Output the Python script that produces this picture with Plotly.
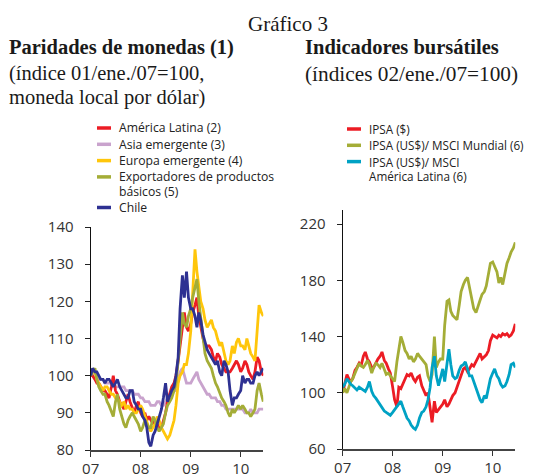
import pandas as pd
import plotly.graph_objects as go

# the page body keeps its default 8px margin, so the figure is drawn 8px in
OFF = 8
W, H = 536 - OFF, 476 - OFF

# semi-monthly observations, 1 Jan 2007 to 15 Jun 2010
dates = pd.date_range("2007-01-01", periods=84, freq="SMS")

# ---- Paridades de monedas (índice 01/ene./07=100)
america_latina = [
    100, 100, 99, 98, 98, 97, 96, 96, 95, 94, 97, 100, 96, 95, 93, 92, 91, 93, 95, 93, 91, 90, 92, 93,
    90, 89, 90, 88, 89, 88, 87, 88, 87, 86, 86, 88, 90, 93, 95, 97, 98, 100, 104, 108, 113, 117, 113, 112,
    114, 117, 119, 121, 116, 113, 110, 108, 108, 108, 107, 105, 104, 106, 105, 103, 102, 101, 101, 101, 102, 103, 104, 103,
    101, 102, 104, 103, 101, 100, 99, 101, 105, 104, 101, 100,
]
asia_emergente = [
    100, 100, 99, 99, 99, 99, 99, 98, 98, 98, 98, 98, 97, 97, 97, 97, 97, 96, 96, 96, 96, 95, 95, 95,
    94, 94, 93, 93, 93, 92, 92, 92, 93, 93, 92, 92, 93, 94, 95, 95, 96, 96, 99, 101, 102, 100, 98, 98,
    98, 99, 100, 101, 99, 98, 97, 96, 95, 95, 94, 94, 94, 93, 93, 92, 92, 91, 91, 91, 91, 91, 91, 91,
    91, 91, 90, 90, 90, 91, 90, 90, 90, 91, 91, 91,
]
europa_emergente = [
    100, 101, 101, 99, 98, 97, 96, 97, 97, 96, 95, 95, 94, 94, 93, 92, 93, 91, 92, 91, 91, 90, 90, 91,
    92, 91, 89, 88, 86, 85, 86, 87, 89, 88, 86, 85, 84, 83, 84, 86, 88, 92, 98, 100, 101, 103, 103, 106,
    112, 122, 134, 128, 124, 120, 118, 115, 113, 114, 115, 113, 112, 110, 108, 109, 106, 104, 103, 104, 108, 106, 109, 110,
    108, 108, 107, 110, 108, 106, 105, 104, 112, 119, 117, 116,
]
exportadores = [
    100, 101, 102, 99, 97, 96, 95, 95, 93, 92, 90, 89, 93, 95, 91, 89, 87, 86, 88, 89, 90, 89, 88, 87,
    85, 86, 88, 87, 86, 86, 89, 88, 86, 85, 86, 87, 90, 92, 93, 94, 96, 98, 104, 111, 117, 114, 113, 116,
    118, 121, 124, 126, 120, 116, 110, 106, 104, 103, 102, 100, 98, 97, 95, 94, 93, 92, 90, 89, 91, 90, 91, 92,
    91, 92, 91, 90, 90, 89, 90, 91, 96, 98, 95, 93,
]
chile = [
    100, 102, 101, 101, 100, 99, 99, 98, 99, 99, 98, 97, 98, 99, 97, 96, 95, 94, 94, 96, 96, 93, 92, 91,
    91, 89, 88, 86, 82, 81, 84, 85, 87, 89, 91, 94, 98, 93, 95, 96, 97, 100, 105, 118, 127, 121, 128, 121,
    118, 118, 116, 113, 117, 115, 111, 109, 107, 106, 105, 104, 103, 104, 101, 100, 104, 103, 101, 96, 92, 94, 94, 95,
    96, 100, 98, 99, 99, 98, 98, 100, 101, 100, 101, 102,
]

# ---- Indicadores bursátiles (índices 02/ene./07=100)
ipsa = [
    100, 106, 113, 110, 108, 110, 116, 118, 121, 119, 126, 129, 124, 122, 118, 118, 122, 124, 126, 129, 123, 121, 117, 114,
    104, 95, 90, 104, 103, 106, 110, 113, 112, 114, 110, 108, 111, 112, 105, 102, 98, 100, 90, 79, 94, 86, 88, 90,
    92, 95, 90, 92, 95, 98, 100, 104, 108, 112, 117, 118, 115, 117, 120, 119, 122, 125, 128, 124, 126, 127, 130, 137,
    141, 140, 139, 141, 140, 142, 141, 142, 140, 141, 144, 149,
]
ipsa_msci_mundial = [
    100, 103, 100, 104, 108, 110, 114, 116, 121, 119, 118, 120, 123, 120, 114, 118, 121, 120, 118, 121, 116, 113, 114, 112,
    110, 108, 122, 132, 140, 136, 130, 128, 124, 126, 122, 124, 128, 126, 124, 122, 120, 112, 108, 113, 140, 118, 122, 124,
    124, 148, 165, 166, 158, 155, 153, 152, 162, 172, 177, 180, 182, 175, 165, 160, 157, 162, 166, 170, 172, 176, 185, 192,
    193, 190, 186, 178, 182, 177, 185, 192, 196, 200, 203, 207,
]
ipsa_msci_al = [
    104, 106, 110, 108, 106, 105, 103, 102, 104, 103, 102, 101, 104, 108, 101, 98, 96, 94, 91, 89, 87, 86, 85, 84,
    86, 88, 90, 92, 94, 90, 86, 82, 80, 77, 75, 74, 77, 82, 86, 87, 90, 95, 104, 118, 126, 112, 105, 110,
    117, 108, 120, 131, 120, 112, 110, 111, 116, 119, 120, 122, 117, 112, 112, 108, 102, 98, 95, 93, 98, 96, 104, 110,
    114, 117, 112, 110, 106, 104, 105, 108, 113, 120, 121, 118,
]

left_names = ["América Latina (2)", "Asia emergente (3)", "Europa emergente (4)",
              "Exportadores de productos<br>básicos (5)", "Chile"]
left_series = [america_latina, asia_emergente, europa_emergente, exportadores, chile]
left_colors = ["#EC1C24", "#C9A3CD", "#FFC60B", "#A4AD37", "#2E3192"]
left_order = [1, 0, 2, 3, 4]   # drawing order (Chile on top)

right_names = ["IPSA ($)", "IPSA (US$)/ MSCI Mundial (6)", "IPSA (US$)/ MSCI<br>América Latina (6)"]
right_series = [ipsa, ipsa_msci_mundial, ipsa_msci_al]
right_colors = ["#EC1C24", "#A4AD37", "#00A2C4"]


# page pixel -> paper fraction
def fx(px):
    return (px - OFF) / W


def fy(py):
    return 1 - (py - OFF) / H


fig = go.Figure()

for i in left_order:
    fig.add_scatter(x=dates, y=left_series[i], mode="lines", name=left_names[i].replace("<br>", " "),
                    line=dict(color=left_colors[i], width=2.8), xaxis="x", yaxis="y", showlegend=False)

for i in range(len(right_series)):
    fig.add_scatter(x=dates, y=right_series[i], mode="lines", name=right_names[i].replace("<br>", " "),
                    line=dict(color=right_colors[i], width=2.8), xaxis="x2", yaxis="y2", showlegend=False)

tick_font = dict(family="Open Sans, sans-serif", size=15, color="#333")
xcommon = dict(type="date", range=["2007-01-01", "2010-06-15"], tick0="2007-01-01", dtick="M12",
               tickformat="%y", ticks="outside", ticklen=5, tickcolor="#333", showgrid=False,
               showline=True, linecolor="#444", linewidth=2, tickfont=tick_font, zeroline=False,
               automargin=False, ticklabelstandoff=-1)
ycommon = dict(ticks="outside", ticklen=5, tickcolor="#222", showgrid=False, showline=True,
               linecolor="#111", linewidth=1.2, tickfont=tick_font, zeroline=False,
               automargin=False, ticklabelstandoff=8)

fig.update_layout(
    width=W, height=H,
    margin=dict(l=0, r=0, t=0, b=0, autoexpand=False),
    paper_bgcolor="white", plot_bgcolor="white",
    xaxis=dict(xcommon, domain=[fx(90.7), fx(263.3)], anchor="y"),
    yaxis=dict(ycommon, domain=[fy(450), fy(227)], range=[80, 140],
               tickvals=[80, 90, 100, 110, 120, 130, 140], anchor="x"),
    xaxis2=dict(xcommon, domain=[fx(342.7), fx(515.3)], anchor="y2"),
    yaxis2=dict(ycommon, domain=[fy(449), fy(210)], range=[60, 230],
                tickvals=[60, 100, 140, 180, 220], anchor="x2"),
)

serif = "Liberation Serif, Times New Roman, serif"
titles = [
    ("Gráfico 3", 246, 24, 21),
    ("<b>Paridades de monedas (1)</b>", 7, 47, 20.5),
    ("(índice 01/ene./07=100,", 7, 74, 20.5),
    ("moneda local por dólar)", 7, 98, 20.5),
    ("<b>Indicadores bursátiles</b>", 303, 47, 20.5),
    ("(índices 02/ene./07=100)", 303, 74, 21.3),
]
for text, x, y, size in titles:
    fig.add_annotation(text=text, xref="paper", yref="paper", x=fx(x), y=fy(y),
                       xanchor="left", yanchor="middle", showarrow=False,
                       font=dict(family=serif, size=size, color="#1a1a1a"))


def draw_legend(names, colors, x_line, x_text, y_start, size):
    font = dict(family="Open Sans, sans-serif", size=size, color="#222")
    y = y_start
    for name, color in zip(names, colors):
        fig.add_shape(type="line", xref="paper", yref="paper",
                      x0=fx(x_line), x1=fx(x_line + 14), y0=fy(y), y1=fy(y),
                      line=dict(color=color, width=3.5))
        parts = name.split("<br>")
        for k, part in enumerate(parts):
            fig.add_annotation(text=part, xref="paper", yref="paper", x=fx(x_text), y=fy(y),
                               xanchor="left", yanchor="middle", showarrow=False, font=font)
            if k < len(parts) - 1:
                y += 14.3
        y += 16.3


draw_legend(left_names, left_colors, 97, 117, 128, 12.2)
draw_legend(right_names, right_colors, 347, 367, 129, 11.7)

fig.write_html("out.html")
